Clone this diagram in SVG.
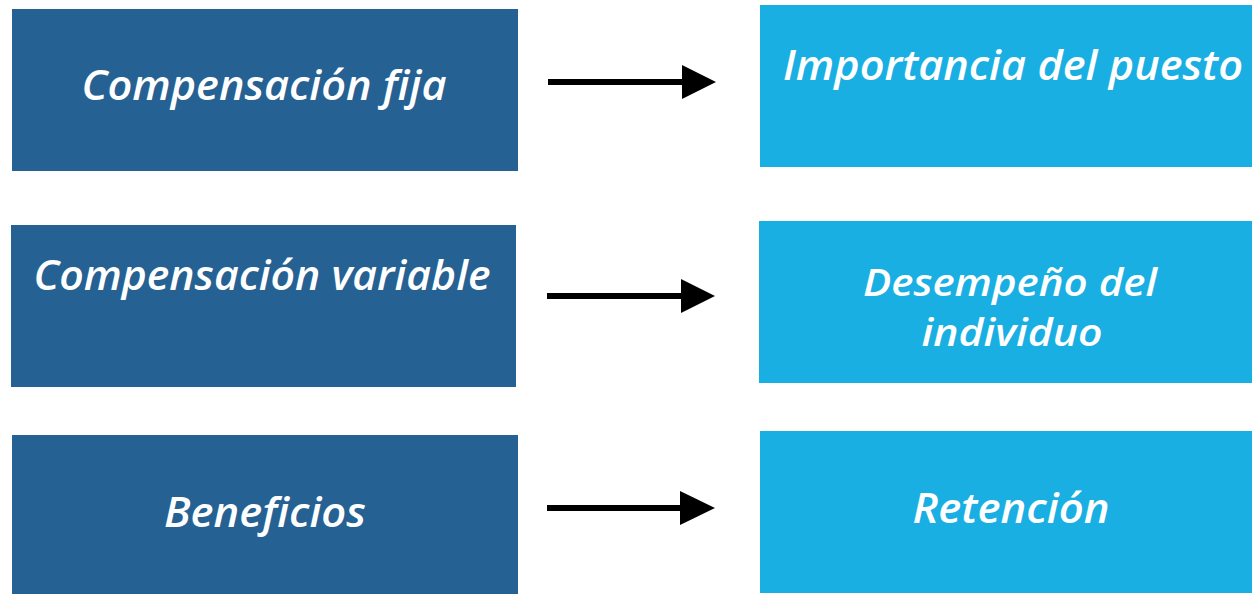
<svg xmlns="http://www.w3.org/2000/svg" width="1252" height="594" viewBox="0 0 1252 594">
<defs>
<style>
.dark{fill:#256293;}
.light{fill:#1AAFE3;}
.lbl{font-family:"Open Sans","Liberation Sans",sans-serif;font-style:italic;font-weight:600;font-size:42px;fill:#FFFFFF;text-anchor:middle;}
.two{font-size:37px;}
.conn line{stroke:#000000;stroke-width:6;}
.conn polygon{fill:#000000;}
</style>
</defs>
<rect width="1252" height="594" fill="#FFFFFF"/>
<g id="node-compensacion-fija">
<rect class="dark" x="12" y="9" width="506" height="162"/>
<text class="lbl" x="264" y="100" textLength="365" lengthAdjust="spacingAndGlyphs">Compensación fija</text>
</g>
<g id="node-compensacion-variable">
<rect class="dark" x="11" y="225" width="505" height="162"/>
<text class="lbl" x="262" y="290" textLength="457" lengthAdjust="spacingAndGlyphs">Compensación variable</text>
</g>
<g id="node-beneficios">
<rect class="dark" x="12" y="435" width="506" height="159"/>
<text class="lbl" x="265" y="527" textLength="202" lengthAdjust="spacingAndGlyphs">Beneficios</text>
</g>
<g id="node-importancia">
<rect class="light" x="760" y="5" width="492" height="162"/>
<text class="lbl" x="1013" y="80" textLength="460" lengthAdjust="spacingAndGlyphs">Importancia del puesto</text>
</g>
<g id="node-desempeno">
<rect class="light" x="759" y="221" width="493" height="162"/>
<text class="lbl two" x="1010" y="296" textLength="294" lengthAdjust="spacingAndGlyphs">Desempeño del</text>
<text class="lbl two" x="1012" y="346" textLength="181" lengthAdjust="spacingAndGlyphs">individuo</text>
</g>
<g id="node-retencion">
<rect class="light" x="760" y="431" width="492" height="162"/>
<text class="lbl" x="1011" y="523" textLength="197" lengthAdjust="spacingAndGlyphs">Retención</text>
</g>
<g id="connectors" class="conn">
<line x1="548" y1="82" x2="684" y2="82"/>
<polygon points="682,65 716,82 682,99"/>
<line x1="547" y1="296" x2="683" y2="296"/>
<polygon points="681,279 715,296 681,313"/>
<line x1="547" y1="508" x2="682" y2="508"/>
<polygon points="680,491 715,508 680,525"/>
</g>
</svg>
